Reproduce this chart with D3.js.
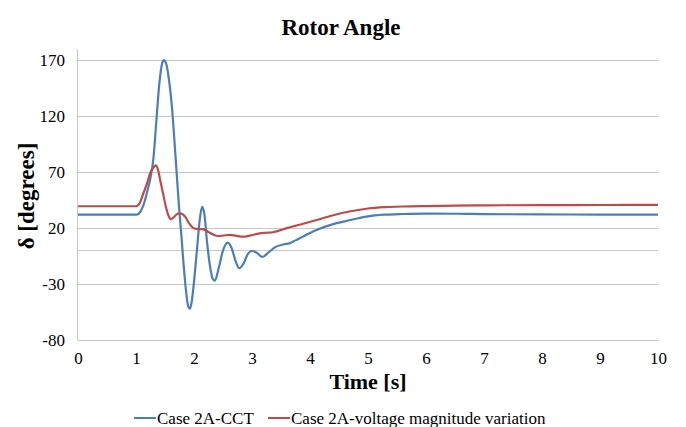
<!DOCTYPE html>
<html>
<head>
<meta charset="utf-8">
<script src="https://cdn.jsdelivr.net/npm/d3@7"></script>
<style>
  html, body { margin: 0; padding: 0; background: #fff; }
  svg { display: block; }
  svg text { font-family: "Liberation Serif", "Times New Roman", Times, serif !important; fill: #000; }
</style>
</head>
<body>
<script>
// ---- data ----
const title = "Rotor Angle";
const xTitle = "Time [s]";
const yTitle = "δ [degrees]";
const seriesNames = ["Case 2A-CCT", "Case 2A-voltage magnitude variation"];
const xTicks = [0, 1, 2, 3, 4, 5, 6, 7, 8, 9, 10];
const yTicks = [-80, -30, 20, 70, 120, 170];

const cctTime = [0, 1.0, 1.05, 1.1, 1.15, 1.2, 1.25, 1.3, 1.35, 1.4, 1.45, 1.48, 1.52, 1.57, 1.62, 1.66, 1.7, 1.74, 1.78, 1.82, 1.86, 1.9, 1.93, 1.96, 2.0, 2.05, 2.1, 2.14, 2.18, 2.22, 2.27, 2.32, 2.36, 2.42, 2.5, 2.58, 2.65, 2.72, 2.78, 2.85, 2.93, 3.0, 3.08, 3.18, 3.28, 3.4, 3.55, 3.65, 3.75, 3.9, 4.1, 4.4, 4.6, 4.85, 5.0, 5.3, 5.6, 6.0, 6.5, 7, 8, 9, 10];
const cctAngle = [32, 32, 33, 37, 44, 54, 65, 82, 115, 148, 167, 170, 167, 152, 128, 100, 70, 40, 15, -12, -35, -50, -52, -46, -28, 0, 28, 39, 32, 10, -12, -25, -27, -17, 0, 7, 2, -10, -16, -12, -3, -0.5, -2, -5.8, -2, 3, 5.5, 6.5, 9, 13, 18, 23.5, 26, 29, 30.5, 32, 32.6, 33, 32.8, 32.5, 32.2, 32.1, 32];

const volTime = [0, 1.0, 1.05, 1.12, 1.19, 1.25, 1.3, 1.34, 1.38, 1.42, 1.47, 1.52, 1.57, 1.6, 1.65, 1.72, 1.78, 1.85, 1.92, 1.98, 2.04, 2.15, 2.25, 2.35, 2.41, 2.5, 2.62, 2.72, 2.85, 2.98, 3.13, 3.25, 3.36, 3.6, 3.82, 4.1, 4.4, 4.7, 5.0, 5.3, 5.6, 6.0, 6.5, 7, 8, 9, 10];
const volAngle = [39.5, 39.5, 41, 50, 60, 70, 74, 76, 72, 62, 50, 38, 30, 28, 29.5, 33, 33, 30, 24, 20.5, 19.3, 19, 16.5, 13.8, 12.9, 13.3, 14, 13.2, 12.3, 13.5, 15.3, 15.8, 16.3, 20, 23, 27, 31.5, 35, 37.5, 38.7, 39.3, 39.7, 40, 40.3, 40.5, 40.6, 40.7];

const colors = ["#4a7ebb", "#be4b48"];

// ---- layout ----
const W = 686, H = 427;
const plot = { left: 78, right: 658, top: 49, bottom: 340 };
const serif = '"Liberation Serif", "Times New Roman", Times, serif';

const svg = d3.select("body").append("svg").attr("width", W).attr("height", H);

const x = d3.scaleLinear().domain([0, 10]).range([plot.left, plot.right]);
const y = d3.scaleLinear().domain([-80, 180]).range([plot.bottom, plot.top]);

// gridlines
svg.append("g")
  .selectAll("line")
  .data(yTicks)
  .join("line")
  .attr("x1", plot.left).attr("x2", plot.right)
  .attr("y1", d => Math.round(y(d)) + 0.5).attr("y2", d => Math.round(y(d)) + 0.5)
  .attr("stroke", "#c8c8c8").attr("stroke-width", 1);

// horizontal axis line at 0
svg.append("line")
  .attr("x1", plot.left).attr("x2", plot.right)
  .attr("y1", Math.round(y(0)) + 0.5).attr("y2", Math.round(y(0)) + 0.5)
  .attr("stroke", "#c8c8c8").attr("stroke-width", 1);

// vertical axis line
svg.append("line")
  .attr("x1", plot.left - 0.5).attr("x2", plot.left - 0.5)
  .attr("y1", plot.top).attr("y2", plot.bottom)
  .attr("stroke", "#c8c8c8").attr("stroke-width", 1);

// y axis labels
const yAxis = d3.axisLeft(y).tickValues(yTicks).tickSize(0).tickPadding(13).tickFormat(d => String(d));
const gy = svg.append("g").attr("transform", `translate(${plot.left},0)`).call(yAxis);
gy.attr("font-family", serif).attr("font-size", 17);
gy.select(".domain").remove();
gy.selectAll("text").style("font-family", serif).style("font-size", "17px").attr("fill", "#000");

// x axis labels
const xAxis = d3.axisBottom(x).tickValues(xTicks).tickSize(0).tickPadding(12).tickFormat(d => String(d));
const gx = svg.append("g").attr("transform", `translate(0,${plot.bottom})`).call(xAxis);
gx.attr("font-family", serif).attr("font-size", 17);
gx.select(".domain").remove();
gx.selectAll("text").style("font-family", serif).style("font-size", "17px").attr("fill", "#000");

// lines
const line = d3.line().x(d => x(d[0])).y(d => y(d[1])).curve(d3.curveMonotoneX);
const series = [
  d3.zip(cctTime, cctAngle),
  d3.zip(volTime, volAngle)
];
svg.append("g")
  .selectAll("path")
  .data(series)
  .join("path")
  .attr("d", line)
  .attr("fill", "none")
  .attr("stroke", (d, i) => colors[i])
  .attr("stroke-width", 2.2)
  .attr("stroke-linejoin", "round");

// titles
svg.append("text").attr("x", 341).attr("y", 35).attr("text-anchor", "middle")
  .style("font-family", serif).style("font-size", "23px").style("font-weight", "bold").text(title);

svg.append("text").attr("x", 368).attr("y", 389).attr("text-anchor", "middle")
  .style("font-family", serif).style("font-size", "22px").style("font-weight", "bold").text(xTitle);

svg.append("text")
  .attr("transform", `translate(34,196) rotate(-90)`)
  .attr("text-anchor", "middle")
  .style("font-family", serif).style("font-size", "23px").style("font-weight", "bold").text(yTitle);

// legend
const legendItems = [
  { name: seriesNames[0], color: colors[0], x: 134 },
  { name: seriesNames[1], color: colors[1], x: 268 }
];
const lg = svg.append("g");
legendItems.forEach(it => {
  lg.append("line").attr("x1", it.x).attr("x2", it.x + 22)
    .attr("y1", 418).attr("y2", 418).attr("stroke", it.color).attr("stroke-width", 2);
  lg.append("text").attr("x", it.x + 23).attr("y", 424)
    .style("font-family", serif).style("font-size", "17px").text(it.name);
});
</script>
</body>
</html>
